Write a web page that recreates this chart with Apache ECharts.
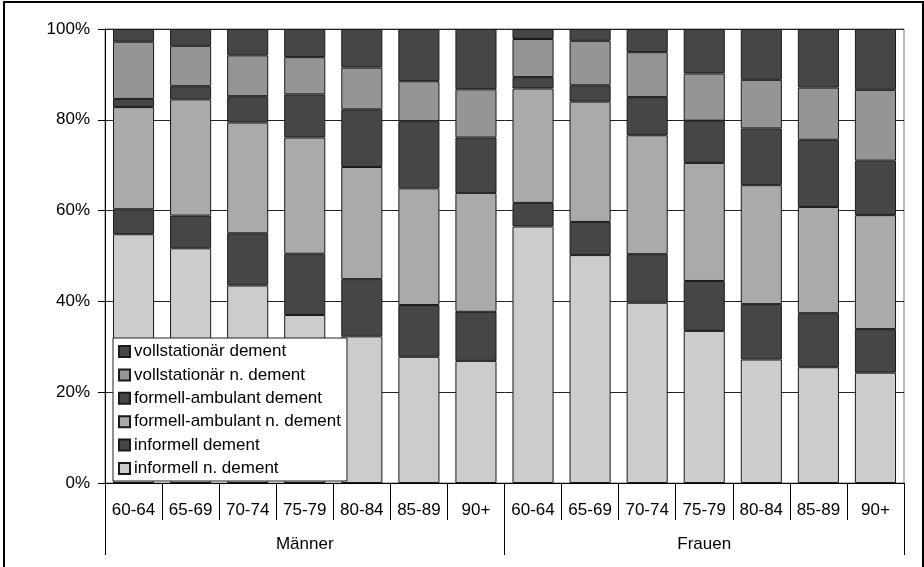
<!DOCTYPE html>
<html>
<head>
<meta charset="utf-8">
<script src="https://cdn.jsdelivr.net/npm/echarts@6/dist/echarts.min.js"></script>
<style>
	html, body { margin: 0; padding: 0; background: #fff; }
	#frame { position: absolute; left: 3px; top: 1px; width: 917px; height: 600px; border: 2px solid #000; border-bottom: none; }
	#chartmain { position: absolute; left: 0; top: 0; width: 924px; height: 567px; }
</style>
</head>
<body>
<div id="frame"></div>
<div id="chartmain"></div>
<script>
	// Altersgruppen (je Geschlecht)
	var ages = [ '60-64', '65-69', '70-74', '75-79', '80-84', '85-89', '90+',
			'60-64', '65-69', '70-74', '75-79', '80-84', '85-89', '90+' ];
	var groups = [ 'Männer', 'Frauen' ];
	var yTicks = [ 0, 20, 40, 60, 80, 100 ];

	// Anteile in %, von unten nach oben gestapelt
	var informellNDement = [ 54.8, 51.7, 43.5, 37.0, 32.3, 27.8, 26.9,
			56.5, 50.2, 39.7, 33.5, 27.2, 25.5, 24.3 ];
	var informellDement = [ 5.5, 7.2, 11.5, 13.5, 12.6, 11.4, 10.8,
			5.2, 7.3, 10.7, 11.0, 12.2, 11.9, 9.6 ];
	var formellNDement = [ 22.5, 25.6, 24.4, 25.6, 24.7, 25.7, 26.2,
			25.2, 26.5, 26.2, 26.0, 26.2, 23.4, 25.1 ];
	var formellDement = [ 1.8, 2.9, 5.8, 9.5, 12.7, 14.8, 12.2,
			2.5, 3.6, 8.4, 9.3, 12.5, 14.8, 12.0 ];
	var vollstatNDement = [ 12.6, 8.9, 9.0, 8.2, 9.2, 8.8, 10.6,
			8.4, 9.8, 9.9, 10.4, 10.7, 11.5, 15.6 ];
	var vollstatDement = [ 2.8, 3.7, 5.8, 6.2, 8.5, 11.5, 13.3,
			2.2, 2.6, 5.1, 9.8, 11.2, 12.9, 13.4 ];

	var font = 'Liberation Sans, Arial, sans-serif';
	var seriesDefs = [
		[ 'informell n. dement', informellNDement, '#cccccc' ],
		[ 'informell dement', informellDement, '#464646' ],
		[ 'formell-ambulant n. dement', formellNDement, '#aaaaaa' ],
		[ 'formell-ambulant dement', formellDement, '#464646' ],
		[ 'vollstationär n. dement', vollstatNDement, '#959595' ],
		[ 'vollstationär dement', vollstatDement, '#464646' ]
	];

	var series = seriesDefs.map(function(d) {
		return {
			name : d[0],
			type : 'bar',
			stack : 'total',
			barCategoryGap : '28%',
			data : d[1],
			itemStyle : {
				color : d[2],
				borderColor : '#1a1a1a',
				borderWidth : 1
			},
			emphasis : { disabled : true }
		};
	});

	var option = {
		animation : false,
		backgroundColor : 'transparent',
		textStyle : { fontFamily : font },
		grid : {
			left : 105,
			right : 20,
			top : 29,
			bottom : 84,
			show : true,
			borderColor : '#777',
			borderWidth : 1
		},
		legend : {
			orient : 'vertical',
			left : 113,
			top : 338,
			padding : [ 5, 6, 4, 5 ],
			itemGap : 6.4,
			itemWidth : 11,
			itemHeight : 11,
			backgroundColor : '#fff',
			borderColor : '#222',
			borderWidth : 1,
			icon : 'rect',
			data : [ 'vollstationär dement', 'vollstationär n. dement',
					'formell-ambulant dement', 'formell-ambulant n. dement',
					'informell dement', 'informell n. dement' ],
			textStyle : {
				fontFamily : font,
				fontSize : 17,
				lineHeight : 17,
				color : '#000',
				padding : [ 0, 0, 0, -1 ]
			},
			selectedMode : false
		},
		xAxis : [ {
			type : 'category',
			data : ages,
			position : 'bottom',
			axisLine : { show : true, lineStyle : { color : '#000', width : 1 } },
			axisTick : {
				show : true,
				interval : 0,
				alignWithLabel : false,
				length : 37,
				lineStyle : { color : '#000', width : 1 }
			},
			axisLabel : {
				interval : 0,
				margin : 19,
				fontFamily : font,
				fontSize : 17,
				color : '#000'
			}
		}, {
			type : 'category',
			data : groups,
			position : 'bottom',
			offset : 0,
			axisLine : { show : false },
			axisTick : {
				show : true,
				interval : 0,
				alignWithLabel : false,
				length : 72,
				lineStyle : { color : '#000', width : 1 }
			},
			axisLabel : {
				interval : 0,
				margin : 53,
				fontFamily : font,
				fontSize : 17,
				color : '#000'
			}
		} ],
		yAxis : {
			type : 'value',
			min : yTicks[0],
			max : yTicks[yTicks.length - 1],
			interval : 20,
			axisLine : { show : true, lineStyle : { color : '#000' } },
			axisTick : { show : true, length : 7, lineStyle : { color : '#000' } },
			axisLabel : {
				margin : 15,
				fontFamily : font,
				fontSize : 17,
				color : '#000',
				formatter : '{value}%'
			},
			splitLine : { lineStyle : { color : '#222', width : 1 } }
		},
		series : series
	};

	var myChart = echarts.init(document.getElementById('chartmain'));
	myChart.setOption(option);
</script>
</body>
</html>
